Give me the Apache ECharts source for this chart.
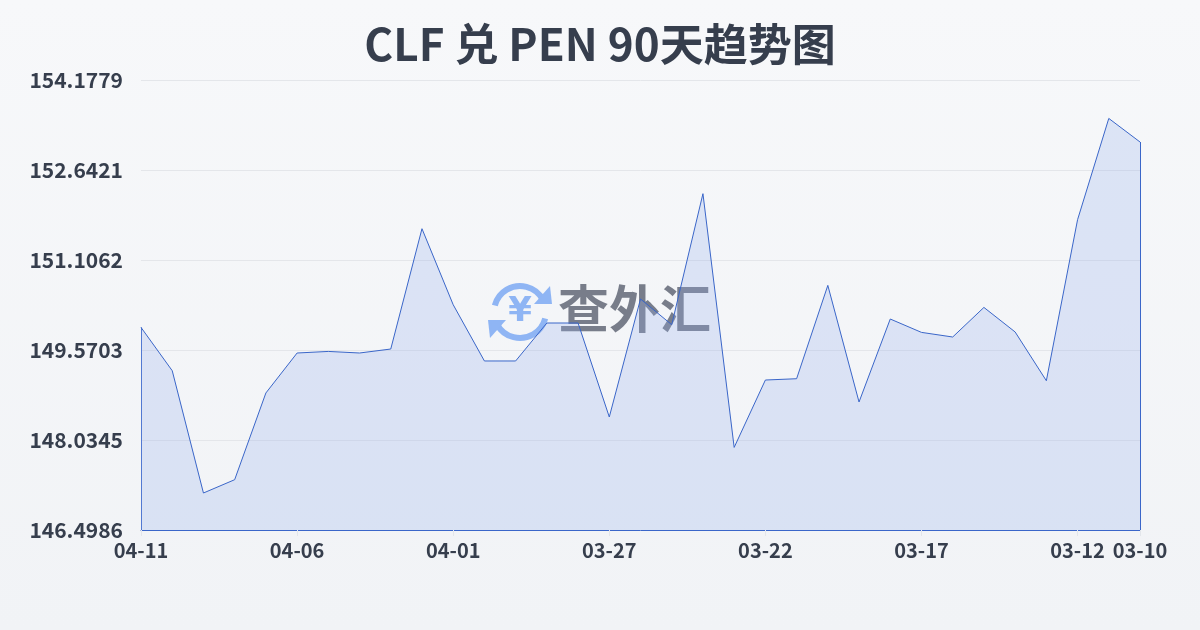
<!DOCTYPE html>
<html>
<head>
<meta charset="utf-8">
<script src="https://cdn.jsdelivr.net/npm/echarts@6/dist/echarts.min.js"></script>
<style>
html,body{margin:0;padding:0;width:1200px;height:630px;overflow:hidden;}
#c{width:1200px;height:630px;}
</style>
</head>
<body>
<div id="c"></div>
<script>
const titleText = 'CLF 兑 PEN 90天趋势图';
const categories = ['04-11','04-10','04-09','04-08','04-07','04-06','04-05','04-04','04-03','04-02','04-01','03-31','03-30','03-29','03-28','03-27','03-26','03-25','03-24','03-23','03-22','03-21','03-20','03-19','03-18','03-17','03-16','03-15','03-14','03-13','03-12','03-11','03-10'];
const values = [149.956,149.217,147.130,147.357,148.837,149.519,149.546,149.519,149.587,151.640,150.343,149.383,149.383,150.031,150.031,148.427,150.441,150.002,152.238,147.908,149.058,149.080,150.673,148.683,150.099,149.871,149.792,150.297,149.878,149.046,151.794,153.522,153.120];
const yTickLabels = ['146.4986','148.0345','149.5703','151.1062','152.6421','154.1779'];

const base = parseFloat(yTickLabels[0]);
const top_ = parseFloat(yTickLabels[yTickLabels.length-1]);
const step = (top_ - base) / (yTickLabels.length - 1);
const shifted = values.map(v => v - base);
const lastIdx = categories.length - 1;
const showIdx = (i) => i % 5 === 0 || i === lastIdx;

const lineColor = '#3a66c9';
const textColor = '#363e4d';
const font = '"Noto Sans CJK SC","Noto Sans",sans-serif';

const chart = echarts.init(document.getElementById('c'), null, {renderer:'canvas'});
chart.setOption({
  backgroundColor: new echarts.graphic.LinearGradient(0,0,0,1,[{offset:0,color:'#f7f8fa'},{offset:1,color:'#f1f3f6'}]),
  animation: false,
  title: {
    text: titleText, left: 'center', top: 17,
    textStyle: {fontSize: 44, fontWeight: 'bold', color: textColor, fontFamily: font}
  },
  grid: {left: 141, right: 60, top: 80, bottom: 100, containLabel: false},
  xAxis: {
    type: 'category', data: categories, boundaryGap: false,
    axisLine: {show: true, lineStyle: {color: lineColor, width: 1}},
    axisTick: {show: true, interval: (i) => showIdx(i), length: 6, lineStyle: {color: '#e3e6eb'}},
    axisLabel: {interval: (i) => showIdx(i), color: textColor, fontSize: 20, fontWeight: 'bold', fontFamily: font, margin: 10},
    splitLine: {show: false}
  },
  yAxis: {
    type: 'value', min: 0, max: step * (yTickLabels.length - 1), interval: step,
    axisLine: {show: false}, axisTick: {show: false},
    axisLabel: {
      color: textColor, fontSize: 21, fontWeight: 'bold', fontFamily: font, margin: 18,
      formatter: (v) => yTickLabels[Math.round(v / step)] || ''
    },
    splitLine: {lineStyle: {color: '#e4e6ea', width: 1}}
  },
  graphic: [
    {type: 'group', left: 488, top: 283, z: 0, silent: true, children: [
      {type: 'arc', shape: {cx: 32, cy: 31, r: 26, startAngle: Math.PI*1.08, endAngle: Math.PI*1.85}, style: {stroke: '#8fb5f4', lineWidth: 6, fill: null}},
      {type: 'arc', shape: {cx: 32, cy: 31, r: 26, startAngle: Math.PI*0.08, endAngle: Math.PI*0.85}, style: {stroke: '#8fb5f4', lineWidth: 6, fill: null}},
      {type: 'polygon', shape: {points: [[46, 23],[64, 23],[62, 5]]}, style: {fill: '#8fb5f4'}},
      {type: 'polygon', shape: {points: [[18, 39],[0, 39],[2, 57]]}, style: {fill: '#8fb5f4'}},
      {type: 'text', style: {text: '¥', x: 32, y: 31, align: 'center', verticalAlign: 'middle', font: 'bold 34px "DejaVu Sans",sans-serif', fill: '#8fb5f4'}}
    ]},
    {type: 'text', left: 558, top: 283, z: 0, silent: true, style: {text: '查外汇', fontSize: 51, fontWeight: 'bold', fontFamily: font, fill: 'rgba(108,114,128,0.92)'}}
  ],
  series: [{
    type: 'line', data: shifted, symbol: 'none', smooth: false, z: 5,
    lineStyle: {color: lineColor, width: 1},
    areaStyle: {color: 'rgba(150,176,236,0.38)'},
    markLine: {
      silent: true, symbol: 'none', animation: false, label: {show: false},
      lineStyle: {color: lineColor, width: 1, type: 'solid'},
      data: [
        [{coord: [0, 0]}, {coord: [0, shifted[0]]}],
        [{coord: [lastIdx, 0]}, {coord: [lastIdx, shifted[lastIdx]]}]
      ]
    }
  }]
});
</script>
</body>
</html>
